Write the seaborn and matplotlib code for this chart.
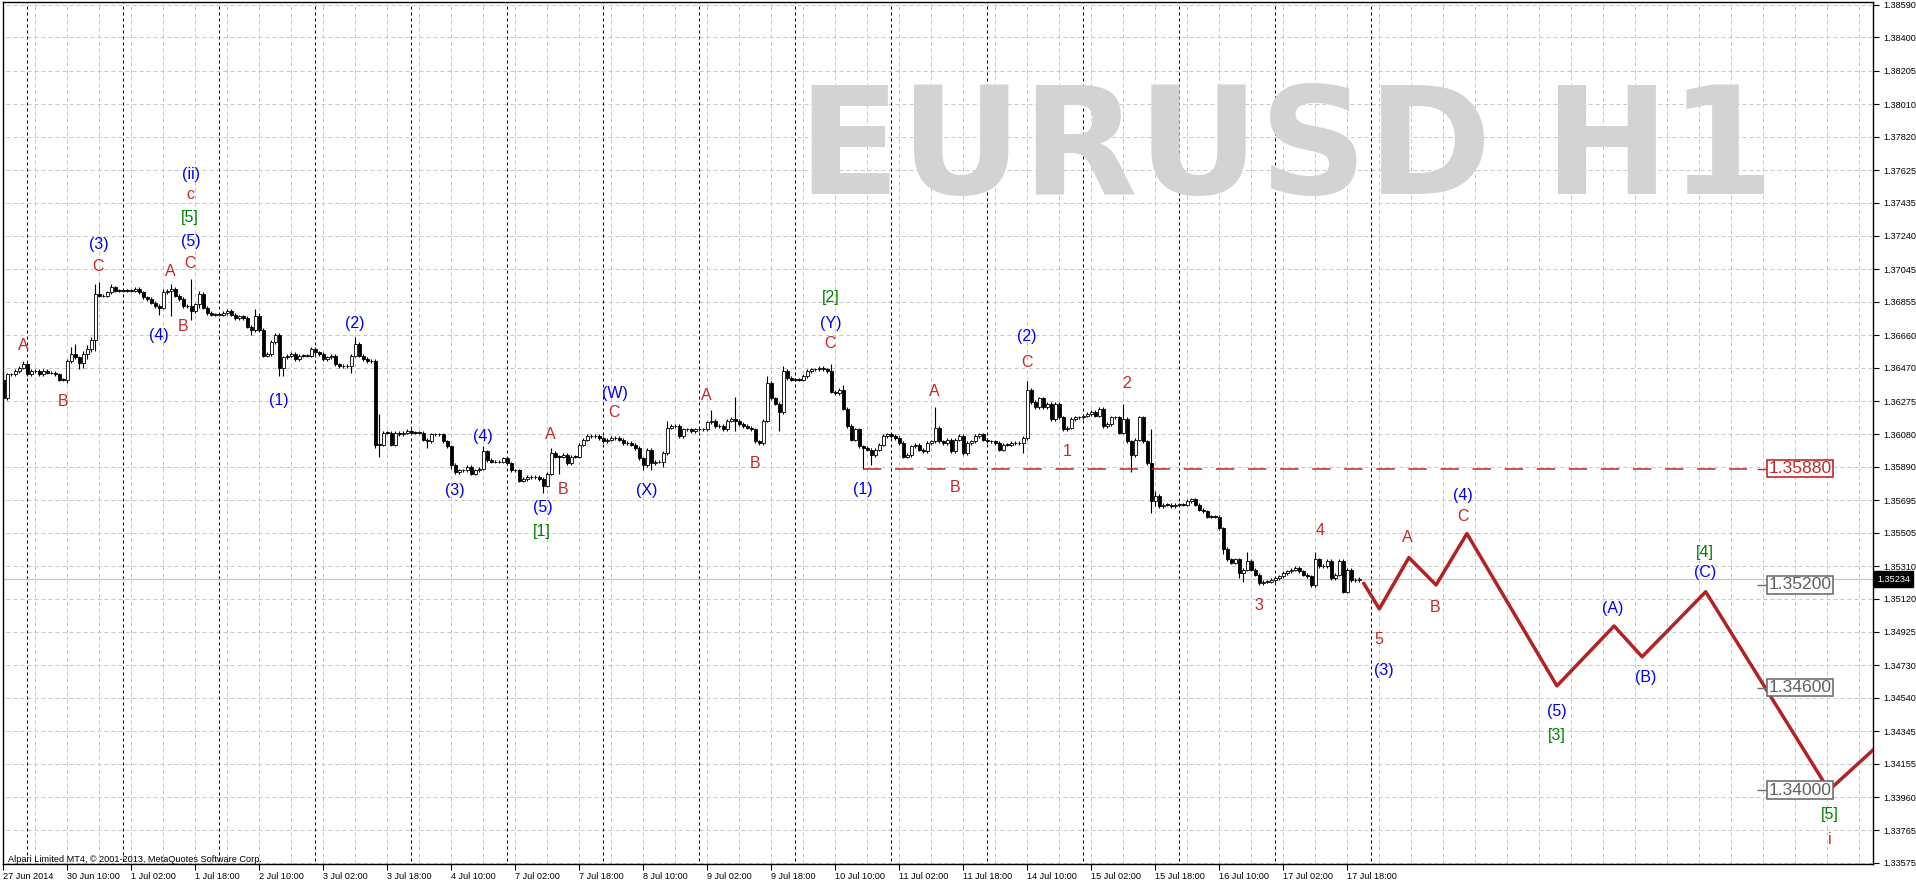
import numpy as np
import pandas as pd
import matplotlib
matplotlib.use("Agg")
import matplotlib.pyplot as plt
import matplotlib.transforms as mtransforms
import seaborn as sns

# ---- data (H1 bars, index 0 = 27 Jun 18:00) ----
first_open = 1.3640
closes = [
    1.3629, 1.3643, 1.3643, 1.3645, 1.3647, 1.3649, 1.3643, 1.3645, 1.3645, 1.3643,
    1.3645, 1.3644, 1.3644, 1.3643, 1.3640, 1.3640, 1.3651, 1.3655, 1.3653, 1.3650,
    1.3655, 1.3658, 1.3663, 1.3690, 1.3689, 1.3689, 1.3691, 1.3694, 1.3692, 1.3692,
    1.3692, 1.3692, 1.3692, 1.3693, 1.3691, 1.3688, 1.3687, 1.3685, 1.3683, 1.3682,
    1.3691, 1.3692, 1.3693, 1.3689, 1.3687, 1.3683, 1.3683, 1.3680, 1.3684, 1.3690,
    1.3682, 1.3679, 1.3678, 1.3678, 1.3678, 1.3679, 1.3680, 1.3678, 1.3676, 1.3677,
    1.3676, 1.3671, 1.3669, 1.3677, 1.3669, 1.3654, 1.3655, 1.3662, 1.3666, 1.3647,
    1.3653, 1.3654, 1.3655, 1.3652, 1.3654, 1.3654, 1.3654, 1.3658, 1.3656, 1.3655,
    1.3652, 1.3653, 1.3654, 1.3649, 1.3648, 1.3648, 1.3648, 1.3654, 1.3661, 1.3654,
    1.3652, 1.3651, 1.3651, 1.3602, 1.3602, 1.3609, 1.3609, 1.3602, 1.3609, 1.3608,
    1.3609, 1.3610, 1.3609, 1.3609, 1.3609, 1.3605, 1.3604, 1.3608, 1.3608, 1.3608,
    1.3604, 1.3601, 1.3590, 1.3586, 1.3587, 1.3587, 1.3589, 1.3585, 1.3587, 1.3588,
    1.3598, 1.3593, 1.3592, 1.3592, 1.3592, 1.3594, 1.3591, 1.3587, 1.3587, 1.3581,
    1.3582, 1.3583, 1.3583, 1.3583, 1.3582, 1.3578, 1.3585, 1.3597, 1.3595, 1.3595,
    1.3596, 1.3591, 1.3595, 1.3595, 1.3602, 1.3605, 1.3607, 1.3607, 1.3607, 1.3606,
    1.3604, 1.3605, 1.3606, 1.3606, 1.3605, 1.3603, 1.3603, 1.3602, 1.3600, 1.3594,
    1.3590, 1.3599, 1.3591, 1.3592, 1.3592, 1.3597, 1.3612, 1.3613, 1.3613, 1.3607,
    1.3611, 1.3611, 1.3610, 1.3611, 1.3611, 1.3611, 1.3615, 1.3616, 1.3613, 1.3613,
    1.3611, 1.3616, 1.3617, 1.3616, 1.3614, 1.3613, 1.3612, 1.3611, 1.3604, 1.3603,
    1.3616, 1.3638, 1.3629, 1.3626, 1.3621, 1.3645, 1.3641, 1.3640, 1.3640, 1.3640,
    1.3642, 1.3645, 1.3646, 1.3646, 1.3647, 1.3646, 1.3645, 1.3633, 1.3632, 1.3634,
    1.3623, 1.3613, 1.3605, 1.3611, 1.3601, 1.3600, 1.3599, 1.3596, 1.3599, 1.3602,
    1.3607, 1.3608, 1.3607, 1.3606, 1.3603, 1.3595, 1.3596, 1.3601, 1.3602, 1.3599,
    1.3598, 1.3603, 1.3604, 1.3612, 1.3604, 1.3603, 1.3605, 1.3598, 1.3605, 1.3607,
    1.3597, 1.3603, 1.3604, 1.3607, 1.3608, 1.3605, 1.3604, 1.3604, 1.3603, 1.3599,
    1.3602, 1.3602, 1.3603, 1.3603, 1.3603, 1.3606, 1.3634, 1.3627, 1.3624, 1.3629,
    1.3624, 1.3626, 1.3617, 1.3626, 1.3618, 1.3611, 1.3612, 1.3617, 1.3618, 1.3618,
    1.3619, 1.3620, 1.3621, 1.3619, 1.3623, 1.3613, 1.3614, 1.3618, 1.3618, 1.3609,
    1.3617, 1.3604, 1.3596, 1.3605, 1.3618, 1.3604, 1.3591, 1.3569, 1.3572, 1.3566,
    1.3567, 1.3567, 1.3566, 1.3567, 1.3567, 1.3567, 1.3569, 1.3570, 1.3567, 1.3564,
    1.3563, 1.3560, 1.3560, 1.3560, 1.3553, 1.3541, 1.3535, 1.3533, 1.3535, 1.3527,
    1.3529, 1.3534, 1.3529, 1.3526, 1.3521, 1.3522, 1.3522, 1.3523, 1.3524, 1.3525,
    1.3527, 1.3528, 1.3529, 1.3530, 1.3528, 1.3526, 1.3525, 1.3520, 1.3535, 1.3531,
    1.3531, 1.3534, 1.3524, 1.3526, 1.3534, 1.3516, 1.3529, 1.3523, 1.3523, 1.35234,
]
# wick lengths beyond the body, in pips
up_wick = [
    1, 1, 1, 1, 1, 2, 1, 1, 1, 1, 1, 1, 1, 1, 1, 1, 1, 4, 6, 1,
    2, 2, 2, 6, 7, 1, 1, 2, 1, 1, 1, 1, 1, 1, 1, 1, 1, 1, 1, 1,
    2, 1, 3, 1, 1, 1, 1, 16, 1, 2, 1, 1, 1, 1, 1, 1, 1, 1, 1, 1,
    1, 1, 1, 4, 2, 1, 1, 1, 1, 1, 1, 1, 1, 1, 1, 1, 1, 1, 1, 1,
    1, 1, 1, 1, 1, 1, 1, 1, 4, 1, 1, 1, 1, 1, 18, 1, 1, 1, 1, 1,
    1, 1, 1, 1, 1, 1, 1, 1, 1, 1, 1, 1, 1, 1, 1, 1, 1, 1, 1, 1,
    3, 1, 1, 1, 1, 1, 1, 1, 1, 1, 1, 1, 1, 1, 1, 1, 1, 3, 1, 1,
    1, 1, 1, 1, 1, 1, 1, 1, 1, 1, 1, 1, 1, 1, 1, 1, 1, 1, 1, 1,
    1, 1, 1, 1, 1, 1, 4, 1, 1, 1, 1, 1, 1, 1, 1, 1, 1, 6, 1, 1,
    1, 1, 1, 13, 1, 1, 1, 1, 1, 1, 1, 4, 1, 1, 1, 3, 1, 1, 1, 1,
    1, 1, 1, 1, 1, 1, 1, 4, 1, 1, 3, 1, 1, 1, 1, 1, 1, 1, 1, 1,
    1, 1, 1, 1, 1, 1, 1, 1, 1, 1, 1, 1, 1, 12, 1, 1, 1, 1, 1, 1,
    1, 1, 1, 1, 1, 1, 1, 1, 1, 1, 1, 1, 1, 1, 1, 1, 5, 1, 1, 1,
    1, 1, 1, 1, 1, 1, 1, 1, 1, 1, 1, 1, 1, 1, 1, 1, 1, 1, 1, 1,
    9, 1, 1, 1, 1, 1, 1, 20, 3, 1, 1, 1, 1, 1, 1, 1, 1, 1, 1, 1,
    1, 1, 1, 1, 1, 1, 1, 1, 1, 1, 1, 5, 1, 1, 1, 1, 1, 1, 1, 1,
    1, 1, 1, 1, 1, 1, 1, 1, 4, 1, 1, 1, 1, 1, 1, 1, 1, 1, 1, 1,
]
down_wick = [
    3, 1, 1, 1, 1, 1, 1, 1, 1, 1, 1, 1, 1, 1, 1, 1, 2, 1, 1, 4,
    3, 3, 2, 6, 1, 1, 1, 1, 1, 1, 1, 1, 1, 1, 1, 1, 1, 1, 1, 4,
    1, 1, 15, 1, 1, 1, 1, 5, 1, 2, 1, 1, 1, 1, 1, 1, 1, 1, 1, 1,
    1, 1, 3, 1, 1, 1, 1, 1, 1, 5, 5, 1, 1, 1, 1, 1, 1, 1, 1, 1,
    1, 1, 1, 1, 1, 1, 1, 4, 1, 1, 1, 1, 1, 2, 7, 1, 1, 1, 1, 1,
    1, 1, 1, 1, 1, 1, 4, 1, 1, 1, 1, 1, 2, 1, 1, 1, 1, 1, 1, 1,
    1, 1, 1, 1, 1, 1, 1, 1, 1, 1, 1, 1, 1, 1, 1, 4, 1, 1, 1, 10,
    1, 1, 1, 1, 1, 1, 1, 1, 1, 1, 1, 1, 1, 1, 1, 1, 1, 1, 1, 1,
    3, 1, 4, 1, 1, 3, 1, 1, 1, 1, 1, 1, 1, 1, 1, 1, 1, 1, 1, 1,
    1, 1, 1, 6, 1, 1, 1, 1, 1, 1, 1, 1, 1, 1, 11, 1, 1, 1, 1, 1,
    1, 1, 1, 1, 1, 1, 1, 1, 1, 1, 1, 1, 1, 1, 1, 12, 1, 6, 1, 1,
    1, 1, 1, 1, 1, 1, 1, 1, 1, 1, 1, 1, 1, 1, 1, 1, 1, 1, 1, 1,
    1, 1, 1, 1, 1, 1, 1, 1, 1, 1, 1, 1, 1, 1, 1, 6, 1, 1, 1, 1,
    1, 1, 1, 1, 1, 1, 1, 1, 1, 1, 1, 1, 1, 1, 1, 1, 1, 1, 1, 1,
    1, 1, 10, 1, 1, 1, 1, 7, 3, 1, 1, 1, 1, 1, 1, 1, 1, 1, 1, 1,
    1, 1, 1, 1, 1, 3, 1, 1, 1, 3, 5, 1, 1, 1, 1, 1, 1, 1, 1, 1,
    1, 1, 1, 1, 1, 1, 1, 1, 1, 1, 1, 1, 1, 1, 1, 1, 1, 1, 1, 1,
]

day_start_bars = [6, 30, 54, 78, 102, 126, 150, 174, 198, 222, 246, 270, 294, 318, 342]
date_label_bars = [0, 16, 32, 48, 64, 80, 96, 112, 128, 144, 160, 176, 192, 208,
                   224, 240, 256, 272, 288, 304, 320, 336]
date_labels = ["27 Jun 2014", "30 Jun 10:00", "1 Jul 02:00", "1 Jul 18:00", "2 Jul 10:00",
               "3 Jul 02:00", "3 Jul 18:00", "4 Jul 10:00", "7 Jul 02:00", "7 Jul 18:00",
               "8 Jul 10:00", "9 Jul 02:00", "9 Jul 18:00", "10 Jul 10:00", "11 Jul 02:00",
               "11 Jul 18:00", "14 Jul 10:00", "15 Jul 02:00", "15 Jul 18:00", "16 Jul 10:00",
               "17 Jul 02:00", "17 Jul 18:00"]
price_ticks = [1.38590, 1.38400, 1.38205, 1.38010, 1.37820, 1.37625, 1.37435, 1.37240,
               1.37045, 1.36855, 1.36660, 1.36470, 1.36275, 1.36080, 1.35890, 1.35695,
               1.35505, 1.35310, 1.35120, 1.34925, 1.34730, 1.34540, 1.34345, 1.34155,
               1.33960, 1.33765, 1.33575]
current_price = 1.35234

# projected wave path
wave_bars = [340.1, 344.0, 351.4, 358.2, 365.9, 388.4, 402.7, 409.7, 425.6, 456.4, 470.0]
wave_prices = [1.3521, 1.3506, 1.3536, 1.3520, 1.3550, 1.3461, 1.3496, 1.3478, 1.3516, 1.3400, 1.3429]

level_price = 1.3588
level_from_bar, level_to_bar = 215, 436
target_prices = [1.3520, 1.3460, 1.3400]

wave_labels = [
    ("A", 4.9, 1.3660, "r"), ("B", 14.9, 1.3627, "r"), ("C", 23.7, 1.3706, "r"),
    ("(3)", 23.9, 1.3719, "b"), ("(4)", 38.9, 1.3666, "b"), ("A", 41.7, 1.3703, "r"),
    ("B", 44.9, 1.3671, "r"), ("C", 46.7, 1.3708, "r"), ("(5)", 46.9, 1.3721, "b"),
    ("[5]", 46.7, 1.3735, "g"), ("c", 46.7, 1.3748, "r"), ("(ii)", 46.9, 1.3760, "b"),
    ("(1)", 68.9, 1.3628, "b"), ("(2)", 87.9, 1.3673, "b"), ("(3)", 112.9, 1.3575, "b"),
    ("(4)", 119.9, 1.3607, "b"), ("A", 136.7, 1.3608, "r"), ("B", 139.9, 1.3576, "r"),
    ("(5)", 134.9, 1.3565, "b"), ("[1]", 134.7, 1.3551, "g"), ("(W)", 152.9, 1.3632, "b"),
    ("C", 152.7, 1.3621, "r"), ("(X)", 160.9, 1.3575, "b"), ("A", 175.7, 1.3631, "r"),
    ("B", 187.9, 1.3591, "r"), ("[2]", 206.9, 1.3688, "g"), ("(Y)", 206.9, 1.3673, "b"),
    ("C", 206.7, 1.3661, "r"), ("(1)", 214.9, 1.3576, "b"), ("A", 232.7, 1.3633, "r"),
    ("B", 237.9, 1.3577, "r"), ("(2)", 255.9, 1.3665, "b"), ("C", 255.9, 1.3650, "r"),
    ("1", 265.9, 1.3598, "r"), ("2", 280.9, 1.3638, "r"), ("3", 313.9, 1.3508, "r"),
    ("4", 329.2, 1.3552, "r"), ("5", 343.9, 1.3488, "r"), ("(3)", 345.2, 1.3470, "b"),
    ("A", 350.9, 1.3548, "r"), ("B", 357.9, 1.3507, "r"), ("C", 364.9, 1.3560, "r"),
    ("(4)", 365.0, 1.3572, "b"), ("(5)", 388.4, 1.3446, "b"), ("[3]", 388.4, 1.3432, "g"),
    ("(A)", 402.4, 1.3506, "b"), ("(B)", 410.6, 1.3466, "b"), ("[4]", 425.5, 1.3539, "g"),
    ("(C)", 425.5, 1.3527, "b"), ("[5]", 456.7, 1.3386, "g"), ("i", 456.7, 1.3371, "r"),
]
label_colors = {"r": "#C62828", "b": "#0000F0", "g": "#008000"}

# ---- candles table ----
opens = [first_open] + closes[:-1]
df = pd.DataFrame({"open": opens, "close": closes, "up": up_wick, "down": down_wick})
df["bar"] = np.arange(len(df))
df["top"] = df[["open", "close"]].max(axis=1)
df["bottom"] = df[["open", "close"]].min(axis=1)
df["high"] = df["top"] + df["up"] * 0.0001
df["low"] = df["bottom"] - df["down"] * 0.0001

sns.set_theme(style="white")
plt.rcParams["font.family"] = ["Liberation Sans", "DejaVu Sans"]

W, H = 1916, 884
fig = plt.figure(figsize=(W / 100, H / 100), dpi=100)
fig.patch.set_facecolor("white")
ax_left, ax_right, ax_top, ax_bot = 2.7, 1873.3, 1.5, 864.0
ax = fig.add_axes([ax_left / W, 1 - ax_bot / H, (ax_right - ax_left) / W, (ax_bot - ax_top) / H])
ax.set_facecolor("white")
ax.set_xlim(-0.15, 467.5)
ax.set_ylim(1.33569, 1.38610)

grid_kw = dict(color="#C8C8C8", linewidth=0.72, linestyle=(0, (4, 3)))
ax.hlines(price_ticks, -1, 470, zorder=1, **grid_kw)
ax.vlines(np.arange(0, 468, 8), 1.3, 1.4, zorder=1, **grid_kw)
ax.vlines(day_start_bars, 1.3, 1.4, color="black", linewidth=0.72,
          linestyle=(0, (3, 3)), zorder=1.2)
ax.axhline(current_price, color="#C8C8C8", linewidth=0.9, zorder=1.3)

ax.text(198.6, 1.37485, "EURUSD H1", fontsize=108, fontweight="bold",
        family="DejaVu Sans", color="#D3D3D3", ha="left", va="baseline", zorder=1.5)

# candles
ax.vlines(df["bar"], df["low"], df["high"], color="black", linewidth=0.8, zorder=3)
body_h = (df["top"] - df["bottom"]).clip(lower=0.000012)
body_c = np.where(df["close"] > df["open"], "white", "black")
ax.bar(df["bar"], body_h, bottom=df["bottom"], width=0.62, color=body_c,
       edgecolor="black", linewidth=0.6, zorder=4)

# broken level
ax.hlines(level_price, level_from_bar, level_to_bar, color="#B8272A", linewidth=1.1,
          linestyle=(0, (12, 9)), zorder=4.5)

# projected path
sns.lineplot(x=wave_bars, y=wave_prices, ax=ax, color="#B22222", linewidth=2.5,
             estimator=None, sort=False, zorder=5)

# price markers
box_x = 449.1
for p, col, tc in [(level_price, "#C0282D", "#C0282D")] + [(t, "#707070", "#606060") for t in target_prices]:
    ax.hlines(p, 438.3, 440.9, color=col, linewidth=1.0, zorder=6)
    ax.text(box_x, p, f"{p:.5f}", fontsize=12.6, color=tc, ha="center", va="center",
            zorder=7, bbox=dict(boxstyle="square,pad=0.08", fc="white", ec=col, lw=1.2))

for txt, b, p, c in wave_labels:
    ax.text(b, p, txt, fontsize=11.5, color=label_colors[c], ha="center", va="center", zorder=8)

# axes cosmetics
for s in ax.spines.values():
    s.set_visible(True)
    s.set_color("black")
    s.set_linewidth(1.0)
ax.yaxis.tick_right()
ax.set_yticks(price_ticks)
ax.set_yticklabels([f"{v:.5f}" for v in price_ticks])
ax.set_xticks(date_label_bars)
ax.set_xticklabels(date_labels)
plt.setp(ax.get_xticklabels(), ha="left")
ax.tick_params(axis="y", which="major", direction="out", length=4, width=0.8,
               pad=3, labelsize=6.6, colors="black", right=True, left=False)
ax.tick_params(axis="x", which="major", direction="out", length=4, width=0.8,
               pad=2, labelsize=6.6, colors="black", bottom=True)
ax.grid(False)
ax.set_xlabel("")
ax.set_ylabel("")
if ax.get_legend():
    ax.get_legend().remove()

trans = mtransforms.blended_transform_factory(ax.transAxes, ax.transData)
ax.text(1.0 + 4 / 1870.6, current_price, f"{current_price:.5f}", transform=trans,
        fontsize=6.6, color="white", ha="left", va="center", zorder=10, clip_on=False,
        bbox=dict(boxstyle="square,pad=0.35", fc="black", ec="black"))

fig.text(8 / W, 1 - 859 / H, "Alpari Limited MT4, \u00a9 2001-2013, MetaQuotes Software Corp.",
         fontsize=6.6, color="black", ha="left", va="center")

fig.savefig("out.png", dpi=100)
plt.close(fig)
